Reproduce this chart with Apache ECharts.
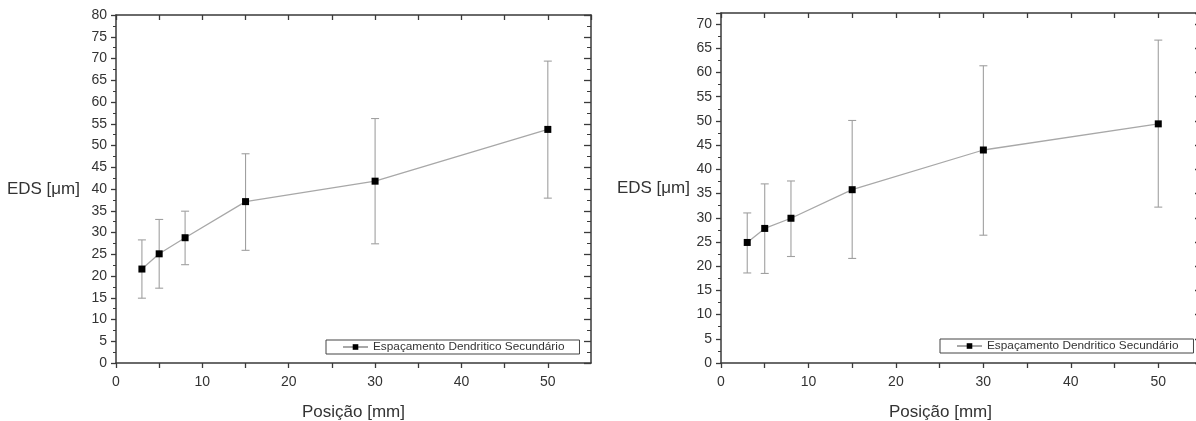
<!DOCTYPE html>
<html>
<head>
<meta charset="utf-8">
<script src="https://cdn.jsdelivr.net/npm/echarts@6/dist/echarts.min.js"></script>
<style>
html,body{margin:0;padding:0;background:#fff;}
#c{width:1196px;height:421px;}
</style>
</head>
<body>
<div id="c"></div>
<script>
// ---- data ----
const positions = [3, 5, 8, 15, 30, 50];
const leftMean  = [21.6, 25.1, 28.8, 37.1, 41.8, 53.7];
const leftUpper = [28.3, 33.0, 34.9, 48.1, 56.2, 69.4];
const leftLower = [14.9, 17.2, 22.6, 25.9, 27.4, 37.9];
const rightMean  = [24.9, 27.8, 29.9, 35.8, 44.0, 49.4];
const rightUpper = [31.0, 37.0, 37.6, 50.1, 61.4, 66.7];
const rightLower = [18.6, 18.5, 22.0, 21.6, 26.4, 32.2];
const seriesName = 'Espaçamento Dendritico Secundário';
const xTitle = 'Posição [mm]';
const yTitle = 'EDS [\u03bcm]';

// ---- styles ----
const FONT = 'Liberation Sans, Arial, sans-serif';
const AXC = '#3a3a3a';
const TXT = '#333';

function pts(xs, ys){ return xs.map((x,i)=>[x, ys[i]]); }
function errData(xs, lo, hi){ return xs.map((x,i)=>[x, lo[i], hi[i]]); }

function errSeries(xi, yi, data){
  return {
    type:'custom', xAxisIndex:xi, yAxisIndex:yi, data:data, z:1, silent:true,
    renderItem:function(params, api){
      const x = api.value(0);
      const top = api.coord([x, api.value(2)]);
      const bot = api.coord([x, api.value(1)]);
      const w = 4;
      const st = {stroke:'#a0a0a0', lineWidth:1.1};
      return {type:'group', children:[
        {type:'line', shape:{x1:top[0], y1:top[1], x2:bot[0], y2:bot[1]}, style:st},
        {type:'line', shape:{x1:top[0]-w, y1:top[1], x2:top[0]+w, y2:top[1]}, style:st},
        {type:'line', shape:{x1:bot[0]-w, y1:bot[1], x2:bot[0]+w, y2:bot[1]}, style:st}
      ]};
    }
  };
}
function lineSeries(xi, yi, data){
  return {
    type:'line', name:seriesName, xAxisIndex:xi, yAxisIndex:yi, data:data, z:3,
    symbol:'rect', symbolSize:7, showSymbol:true,
    itemStyle:{color:'#000'}, lineStyle:{color:'#a8a8a8', width:1.3},
    emphasis:{disabled:true}, animation:false
  };
}

function xBottom(grid, nameShift){
  return {
    type:'value', gridIndex:grid, position:'bottom', min:0, max:55, interval:5,
    axisLine:{show:true, onZero:false, lineStyle:{color:AXC, width:1.5}},
    axisTick:{show:true, inside:false, length:5, lineStyle:{color:AXC, width:1.3}},
    minorTick:{show:false},
    splitLine:{show:false},
    axisLabel:{color:TXT, fontFamily:FONT, fontSize:14, margin:12, showMaxLabel:false,
      formatter:function(v){ return (v % 10 === 0) ? String(v) : ''; }},
    name:xTitle, nameLocation:'middle', nameGap:41,
    nameTextStyle:{color:TXT, fontFamily:FONT, fontSize:17, padding:[0, nameShift, 0, 0]}
  };
}
function xTop(grid){
  return {
    type:'value', gridIndex:grid, position:'top', min:0, max:55, interval:5,
    axisLine:{show:true, onZero:false, lineStyle:{color:AXC, width:1.5}},
    axisTick:{show:true, inside:true, length:5, lineStyle:{color:AXC, width:1.3}},
    splitLine:{show:false}, axisLabel:{show:false}
  };
}
function yLeft(grid, max, gap){
  return {
    type:'value', gridIndex:grid, position:'left', min:0, max:max, interval:5,
    axisLine:{show:true, onZero:false, lineStyle:{color:AXC, width:1.5}},
    axisTick:{show:true, inside:false, length:5, lineStyle:{color:AXC, width:1.3}},
    minorTick:{show:true, splitNumber:2, length:3, lineStyle:{color:AXC, width:1}},
    splitLine:{show:false},
    axisLabel:{color:TXT, fontFamily:FONT, fontSize:14, margin:9, showMaxLabel:true,
      formatter:function(v){ return (v % 5 === 0) ? String(v) : ''; }},
    name:yTitle, nameLocation:'middle', nameRotate:0, nameGap:gap,
    nameTextStyle:{color:TXT, fontFamily:FONT, fontSize:17, padding:[6, 0, 0, 0]}
  };
}
function yRight(grid, max){
  return {
    type:'value', gridIndex:grid, position:'right', min:0, max:max, interval:5,
    axisLine:{show:true, onZero:false, lineStyle:{color:AXC, width:1.5}},
    axisTick:{show:true, inside:true, length:7, lineStyle:{color:AXC, width:1.3}},
    minorTick:{show:true, splitNumber:2, length:4, lineStyle:{color:AXC, width:1}},
    splitLine:{show:false}, axisLabel:{show:false}
  };
}
function legendAt(left, top){
  return {
    data:[seriesName], left:left, top:top, orient:'horizontal',
    borderColor:'#444', borderWidth:1, borderRadius:0, backgroundColor:'#fff',
    padding:[1, 15, 1, 16], itemWidth:25, itemHeight:7, itemGap:0,
    selectedMode:false,
    textStyle:{color:TXT, fontFamily:FONT, fontSize:11.8}
  };
}

const chart = echarts.init(document.getElementById('c'), null, {renderer:'canvas'});
chart.setOption({
  animation:false,
  backgroundColor:'#fff',
  grid:[
    {left:116, top:15, width:475, height:348, outerBoundsMode:'none', containLabel:false},
    {left:721, top:13, width:481, height:350, outerBoundsMode:'none', containLabel:false}
  ],
  xAxis:[xBottom(0, 0), xTop(0), xBottom(1, 42), xTop(1)],
  yAxis:[yLeft(0, 80, 36), yRight(0, 80), yLeft(1, 72.3, 31), yRight(1, 72.3)],
  legend:[legendAt(326, 340), legendAt(940, 339)],
  series:[
    errSeries(0, 0, errData(positions, leftLower, leftUpper)),
    lineSeries(0, 0, pts(positions, leftMean)),
    errSeries(2, 2, errData(positions, rightLower, rightUpper)),
    lineSeries(2, 2, pts(positions, rightMean))
  ]
});
</script>
</body>
</html>
